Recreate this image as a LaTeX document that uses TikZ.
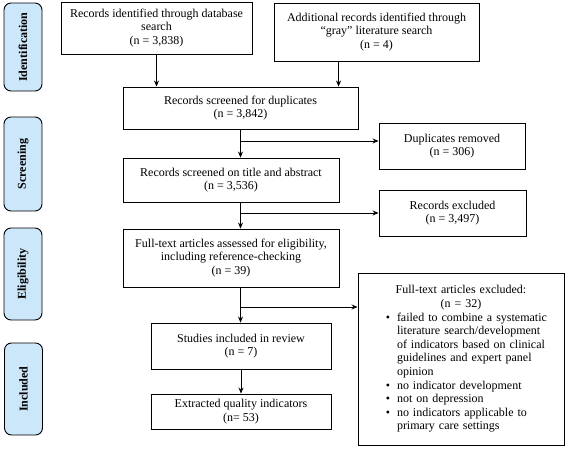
\documentclass[tikz,border=0pt]{standalone}
\usepackage{fontspec}
\setmainfont{Liberation Serif}
\usepackage{enumitem}
\usepackage{tikz}
\usetikzlibrary{calc,positioning,arrows,arrows.meta,shapes}
\definecolor{stageblue}{RGB}{204,230,250}
\tikzset{
	>={Stealth[length=6pt,width=5pt]},
	box/.style={draw, line width=0.9pt, rectangle, align=center, inner sep=1pt,
		font=\fontsize{12}{13.6}\selectfont},
	stage/.style={draw, line width=0.9pt, rounded corners=7pt, fill=stageblue,
		rotate=90, minimum height=38, inner sep=2pt,
		font=\fontsize{12}{13.6}\selectfont\bfseries},
	link/.style={->, line width=0.8pt},
}

\begin{document}
\begin{tikzpicture}[x=1pt,y=-1pt]
		\useasboundingbox (0,0) rectangle (568,450);

		% stages
		\node[stage, minimum width=88] (ident) at (23,47) {Identification};
		\node[stage, minimum width=94] (screen) at (23,164) {Screening};
		\node[stage, minimum width=92] (elig) at (23,274) {Eligibility};
		\node[stage, minimum width=92] (incl) at (23.5,389) {Included};

		% main boxes
		\node[box, minimum width=191, minimum height=52] (dbsearch) at (156.5,28)
			{Records identified through database\\ search\\ (n = 3,838)};
		\node[box, minimum width=205, minimum height=58] (gray) at (376.5,32)
			{Additional records identified through\\ “gray” literature search\\ (n = 4)};
		\node[box, minimum width=235, minimum height=42] (dupscreen) at (240.5,108)
			{Records screened for duplicates\\ (n = 3,842)};
		\node[box, minimum width=216, minimum height=44] (titlescreen) at (231,180)
			{Records screened on title and abstract\\ (n = 3,536)};
		\node[box, minimum width=216, minimum height=58] (fulltext) at (231,258)
			{Full-text articles assessed for eligibility,\\ including reference-checking\\ (n = 39)};
		\node[box, minimum width=180, minimum height=46] (studies) at (241,346)
			{Studies included in review\\ (n = 7)};
		\node[box, minimum width=180, minimum height=35] (indicators) at (241,411.5)
			{Extracted quality indicators\\ (n= 53)};

		% exclusions
		\node[box, minimum width=146, minimum height=46] (dupremoved) at (452,146)
			{Duplicates removed\\ (n = 306)};
		\node[box, minimum width=147, minimum height=46] (recexcl) at (452.5,213)
			{Records excluded\\ (n = 3,497)};
		\node[box, minimum width=206, minimum height=172, text width=198, align=left,
			inner sep=4pt] (ftexcl) at (461,359)
			{{\centering Full-text articles excluded:\\ (n = 32)\par}
			\begin{itemize}[leftmargin=35pt, labelsep=7pt, itemsep=0pt, topsep=0pt,
				parsep=0pt, partopsep=0pt, label=\textbullet]
			\item failed to combine a systematic\\ literature search/development\\ of indicators based on clinical\\ guidelines and expert panel\\ opinion
			\item no indicator development
			\item not on depression
			\item no indicators applicable to\\ primary care settings
			\end{itemize}};

		\coordinate (j1) at (240.5,141);
		\coordinate (j2) at (240.5,213);
		\coordinate (j3) at (240.5,307);

		\draw[link] (dbsearch.south) -- (dbsearch.south |- dupscreen.north);
		\draw[link] ([xshift=65pt]gray.south west) -- ([xshift=65pt]gray.south west |- dupscreen.north);
		\draw[link] (dupscreen.south) -- (dupscreen.south |- titlescreen.north);
		\draw[link] (j1) -- (j1 -| dupremoved.west);
		\draw[link] (j1 |- titlescreen.south) -- (j1 |- fulltext.north);
		\draw[link] (j2) -- (j2 -| recexcl.west);
		\draw[link] (j3 |- fulltext.south) -- (j3 |- studies.north);
		\draw[link] (j3) -- (j3 -| ftexcl.west);
		\draw[link] (studies.south) -- (indicators.north);
	\end{tikzpicture}
\end{document}
